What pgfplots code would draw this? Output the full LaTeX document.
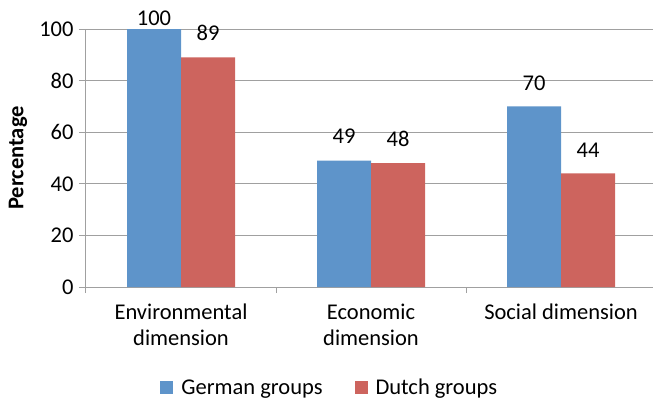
\documentclass[border=0pt]{standalone}
\usepackage{fontspec}
\setmainfont{Carlito}
\usepackage{pgfplots}
\usepackage{pgfplotstable}
\pgfplotsset{compat=1.18}

\definecolor{gerblue}{RGB}{94,148,202}
\definecolor{dutred}{RGB}{205,100,94}
\definecolor{gridgray}{RGB}{160,160,160}

% x, value, label offset (pt above bar top)
\pgfplotstableread{
x y dy
0 100 10.5
1 49 24
2 70 23.5
}\german
\pgfplotstableread{
x y dy
0 89 24
1 48 24
2 44 23.5
}\dutch

\begin{document}
\begin{tikzpicture}
\useasboundingbox (-86pt,-113pt) rectangle (567pt,287pt);
\begin{axis}[
  at={(0,0)}, anchor=south west,
  scale only axis,
  width=567pt, height=258pt,
  font=\fontsize{22.5}{26}\selectfont,
  /pgf/number format/assume math mode=true,
  ybar=0pt, bar width=54pt,
  xmin=-0.5, xmax=2.484,
  ymin=0, ymax=100,
  ytick={0,20,...,100},
  yticklabel style={xshift=-2pt},
  xtick={0,1,2},
  xticklabels={{Environmental\\dimension},{Economic\\dimension},{Social dimension}},
  xticklabel style={align=center, yshift=-6pt},
  minor xtick={-0.5,0.5,1.5},
  xtick style={draw=none},
  minor x tick style={draw=gridgray, line width=1pt},
  minor tick length=6pt,
  y tick style={draw=gridgray, line width=1pt},
  major tick length=7pt,
  tick align=outside,
  axis x line*=bottom, axis y line*=left,
  axis line style={draw=gridgray, line width=1pt},
  ymajorgrids, grid style={draw=gridgray, line width=1pt},
  ylabel={\bfseries Percentage},
  ylabel style={at={(axis description cs:-0.12,0.5)}, anchor=center},
  legend columns=2,
  legend style={at={(axis description cs:0.43,-0.39)}, anchor=center,
    draw=none, fill=none,
    /tikz/every odd column/.append style={column sep=6pt},
    /tikz/every even column/.append style={column sep=30pt}},
  legend image code/.code={\fill[#1] (0pt,-6.5pt) rectangle (13pt,6.5pt);},
  nodes near coords,
  visualization depends on={\thisrow{dy} \as \dy},
  every node near coord/.append style={anchor=center, yshift=\dy pt, text=black},
]
\addplot[fill=gerblue, draw=none] table[x=x, y=y] {\german};
\addplot[fill=dutred, draw=none] table[x=x, y=y] {\dutch};
\legend{German groups, Dutch groups}
\end{axis}
\end{tikzpicture}
\end{document}
